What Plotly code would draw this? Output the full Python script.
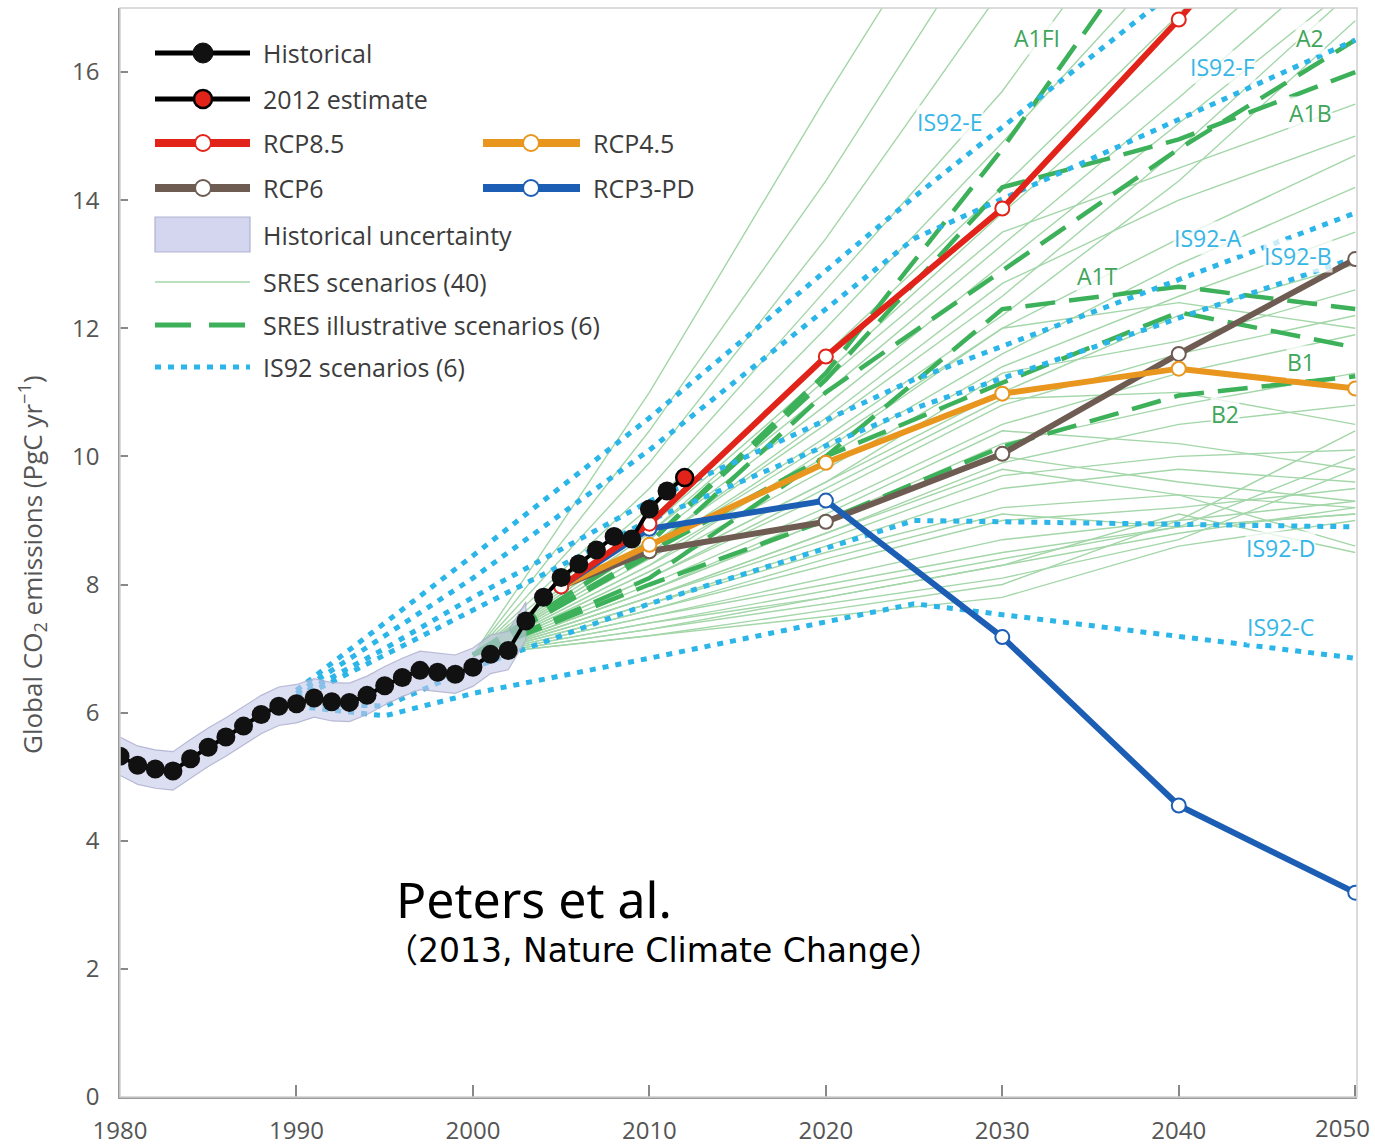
import plotly.graph_objects as go

# ---------------------------------------------------------------- data
hist_years = list(range(1980, 2012))
hist_emis = [5.32, 5.18, 5.12, 5.09, 5.28, 5.46, 5.62, 5.79, 5.97, 6.10,
             6.14, 6.23, 6.17, 6.16, 6.27, 6.42, 6.55, 6.66, 6.63, 6.60,
             6.71, 6.91, 6.97, 7.43, 7.80, 8.11, 8.32, 8.54, 8.75, 8.71,
             9.18, 9.46]
# half-width of the historical uncertainty band, 1980-2003
unc_years = list(range(1980, 2004))
hist_unc = [0.30, 0.30, 0.30, 0.30, 0.30, 0.30, 0.30, 0.30, 0.30, 0.30,
            0.30, 0.30, 0.30, 0.30, 0.30, 0.30, 0.30, 0.30, 0.30, 0.30,
            0.30, 0.30, 0.30, 0.30]
est_year = [2012]
est_emis = [9.67]

rcp_years = [2005, 2010, 2020, 2030, 2040, 2050]
rcp85 = [7.97, 8.95, 11.56, 13.87, 16.82, 20.0]
rcp45 = [7.97, 8.62, 9.90, 10.98, 11.37, 11.06]
rcp6 = [7.97, 8.52, 8.98, 10.04, 11.60, 13.08]
rcp3pd = [7.97, 8.87, 9.31, 7.18, 4.55, 3.19]

sres_years = [2000, 2010, 2020, 2030, 2040, 2050]
sres_runs = [
    [6.9, 11.0, 15.6, 20.0, 24.0, 28.0],
    [6.9, 10.4, 14.3, 18.6, 22.0, 26.0],
    [6.9, 9.9, 13.4, 17.3, 21.0, 25.0],
    [6.9, 9.5, 12.6, 15.7, 19.5, 23.0],
    [6.9, 9.2, 12.0, 14.9, 17.9, 21.0],
    [6.9, 9.0, 11.6, 14.2, 16.9, 20.0],
    [6.9, 8.9, 11.3, 13.8, 16.2, 18.6],
    [6.9, 8.8, 11.0, 13.3, 15.6, 18.0],
    [6.9, 8.7, 10.8, 13.0, 15.2, 17.4],
    [6.9, 8.6, 10.5, 12.5, 14.8, 17.3],
    [6.9, 8.5, 10.3, 12.2, 14.3, 16.8],
    [6.9, 8.8, 11.2, 13.5, 14.5, 15.5],
    [6.9, 8.6, 10.6, 12.7, 14.0, 15.0],
    [6.9, 8.5, 10.2, 12.0, 13.4, 14.7],
    [6.9, 8.4, 10.0, 11.6, 13.0, 14.2],
    [6.9, 8.3, 9.8, 11.4, 12.5, 13.5],
    [6.9, 8.2, 9.6, 11.0, 12.2, 13.0],
    [6.9, 8.3, 10.1, 12.0, 12.4, 12.0],
    [6.9, 8.2, 9.6, 11.3, 11.8, 12.6],
    [6.9, 8.1, 9.4, 10.8, 11.6, 12.2],
    [6.9, 8.0, 9.2, 10.5, 11.3, 11.9],
    [6.9, 8.1, 9.5, 10.9, 11.0, 10.5],
    [6.9, 7.9, 9.0, 10.2, 10.8, 11.3],
    [6.9, 7.9, 9.1, 10.4, 10.2, 9.8],
    [6.9, 7.8, 8.8, 9.9, 10.5, 10.8],
    [6.9, 7.8, 8.7, 9.7, 10.0, 10.1],
    [6.9, 7.9, 9.0, 10.0, 9.6, 9.3],
    [6.9, 7.7, 8.6, 9.5, 9.8, 9.6],
    [6.9, 7.8, 8.8, 9.8, 9.4, 8.6],
    [6.9, 7.7, 8.5, 9.2, 9.4, 9.2],
    [6.9, 7.6, 8.3, 9.0, 9.2, 9.5],
    [6.9, 7.6, 8.4, 9.1, 8.9, 9.1],
    [6.9, 7.5, 8.1, 8.7, 9.0, 9.3],
    [6.9, 7.5, 8.0, 8.5, 8.9, 9.1],
    [6.9, 7.4, 7.9, 8.4, 8.9, 10.0],
    [6.9, 7.4, 7.8, 8.3, 9.1, 8.5],
    [6.9, 7.3, 7.8, 8.3, 8.8, 9.2],
    [6.9, 7.3, 7.7, 8.1, 8.7, 9.8],
    [6.9, 7.2, 7.6, 8.0, 9.0, 10.4],
    [6.9, 7.2, 7.5, 7.8, 8.6, 9.0],
]

# SRES illustrative (marker) scenarios
sres_a1fi = [6.9, 8.65, 11.3, 14.8, 18.7, 23.1]
sres_a2 = [6.9, 8.45, 11.0, 12.9, 14.8, 16.5]
sres_a1b = [6.9, 8.65, 11.2, 14.2, 14.95, 16.0]
sres_a1t = [6.9, 8.1, 10.0, 12.3, 12.65, 12.3]
sres_b1 = [6.9, 8.5, 10.0, 11.15, 12.25, 11.7]
sres_b2 = [6.9, 8.0, 9.0, 10.15, 10.95, 11.25]

# IS92 scenarios
is92_years = [1990, 1995, 2000, 2010, 2025, 2050]
is92_e = [6.35, 7.40, 8.45, 10.6, 14.05, 19.5]
is92_f = [6.30, 7.20, 8.10, 10.1, 13.40, 16.5]
is92_a = [6.25, 7.00, 7.80, 9.3, 11.20, 13.8]
is92_b = [6.20, 6.90, 7.60, 9.0, 10.75, 13.1]
is92_d = [6.15, 6.10, 6.70, 7.7, 9.00, 8.9]
is92_c = [6.10, 5.95, 6.30, 6.85, 7.70, 6.85]

x_ticks = [1980, 1990, 2000, 2010, 2020, 2030, 2040, 2050]
y_ticks = [0, 2, 4, 6, 8, 10, 12, 14, 16]

# ------------------------------------------------------------- styles
RED = "#e2231a"
ORANGE = "#e8961e"
BROWN = "#6e5b52"
BLUE = "#1d5eb5"
GREEN_D = "#3db15a"
GREEN_T = "#a3d6a8"
CYAN = "#2bb5e8"
LBL_GREEN = "#3fa55b"
LBL_CYAN = "#36b6e6"
TXT = "#3c3c3c"
AX_TXT = "#555555"
FONT = "Open Sans"

DASH_SRES = "30px,14px"
DOT_IS92 = "6px,7px"

fig = go.Figure()

# thin SRES scenario lines, one trace with gaps between runs
xs, ys = [], []
for run in sres_runs:
    xs += sres_years + [None]
    ys += run + [None]
fig.add_trace(go.Scatter(x=xs, y=ys, mode="lines", hoverinfo="skip",
                         line=dict(color=GREEN_T, width=1.4),
                         connectgaps=False, showlegend=False))

for vals in [sres_b2, sres_b1, sres_a1t, sres_a1b, sres_a2, sres_a1fi]:
    fig.add_trace(go.Scatter(x=sres_years, y=vals, mode="lines",
                             line=dict(color=GREEN_D, width=4.5, dash=DASH_SRES),
                             showlegend=False))

for vals in [is92_c, is92_d, is92_b, is92_a, is92_f, is92_e]:
    fig.add_trace(go.Scatter(x=is92_years, y=vals, mode="lines",
                             line=dict(color=CYAN, width=5, dash=DOT_IS92),
                             showlegend=False))

# historical uncertainty band
n_unc = len(unc_years)
band_hi = [v + u for v, u in zip(hist_emis[:n_unc], hist_unc)]
band_lo = [v - u for v, u in zip(hist_emis[:n_unc], hist_unc)]
fig.add_trace(go.Scatter(x=unc_years + unc_years[::-1],
                         y=band_hi + band_lo[::-1],
                         fill="toself", mode="lines",
                         fillcolor="rgba(196,200,232,0.6)",
                         line=dict(color="rgba(170,172,205,0.8)", width=1.2),
                         showlegend=False))

# RCP pathways
for vals, col in [(rcp6, BROWN), (rcp45, ORANGE), (rcp3pd, BLUE), (rcp85, RED)]:
    fig.add_trace(go.Scatter(x=rcp_years, y=vals, mode="lines+markers",
                             line=dict(color=col, width=6),
                             marker=dict(size=14, color="white",
                                         line=dict(color=col, width=2)),
                             showlegend=False))

# historical emissions and 2012 estimate
fig.add_trace(go.Scatter(x=hist_years + est_year, y=hist_emis + est_emis,
                         mode="lines", line=dict(color="black", width=4),
                         showlegend=False))
fig.add_trace(go.Scatter(x=hist_years, y=hist_emis, mode="markers",
                         marker=dict(size=19, color="#111111",
                                     line=dict(color="#111111", width=0)),
                         showlegend=False))
fig.add_trace(go.Scatter(x=est_year, y=est_emis, mode="markers",
                         marker=dict(size=17, color=RED,
                                     line=dict(color="black", width=2.5)),
                         showlegend=False))

# ------------------------------------------------------ scenario labels
labels = [
    ("A1FI", 2031.98, 16.53, LBL_GREEN),
    ("A2", 2047.46, 16.53, LBL_GREEN),
    ("A1B", 2047.46, 15.36, LBL_GREEN),
    ("A1T", 2035.39, 12.82, LBL_GREEN),
    ("B1", 2046.90, 11.47, LBL_GREEN),
    ("B2", 2042.64, 10.66, LBL_GREEN),
    ("IS92-E", 2027.05, 15.22, LBL_CYAN),
    ("IS92-F", 2042.47, 16.08, LBL_CYAN),
    ("IS92-A", 2041.68, 13.41, LBL_CYAN),
    ("IS92-B", 2046.78, 13.13, LBL_CYAN),
    ("IS92-D", 2045.76, 8.57, LBL_CYAN),
    ("IS92-C", 2045.76, 7.34, LBL_CYAN),
]
annotations = []
for txt, x, y, col in labels:
    annotations.append(dict(x=x, y=y, xref="x", yref="y", text=txt,
                            showarrow=False, xanchor="center", yanchor="middle",
                            bgcolor="rgba(255,255,255,0.75)", borderpad=0,
                            font=dict(family=FONT, size=23, color=col)))

# ------------------------------------------------------------- legend
W, H = 1375, 1145
L, R, T, B = 120, 1357, 8, 1097


def px(x):
    return (x - L) / (R - L)


def py(y):
    return (B - y) / (B - T)


shapes = []


def key_line(x0, x1, y, col, width, dash="solid"):
    shapes.append(dict(type="line", xref="paper", yref="paper",
                       x0=px(x0), x1=px(x1), y0=py(y), y1=py(y),
                       line=dict(color=col, width=width, dash=dash)))


def key_dot(x, y, r, fill, edge, ew):
    shapes.append(dict(type="circle", xref="paper", yref="paper",
                       xsizemode="pixel", ysizemode="pixel",
                       xanchor=px(x), yanchor=py(y),
                       x0=-r, x1=r, y0=-r, y1=r,
                       fillcolor=fill, line=dict(color=edge, width=ew)))


def key_text(x, y, txt):
    annotations.append(dict(x=px(x), y=py(y), xref="paper", yref="paper",
                            text=txt, showarrow=False, xanchor="left",
                            yanchor="middle",
                            font=dict(family=FONT, size=25, color=TXT)))


c1a, c1b, c1m, c1t = 155, 250, 203, 261
c2a, c2b, c2m, c2t = 483, 580, 531, 591

key_line(c1a, c1b, 53, "black", 5)
key_dot(c1m, 53, 10, "#111111", "#111111", 1)
key_text(c1t, 53, "Historical")

key_line(c1a, c1b, 99, "black", 5)
key_dot(c1m, 99, 9, RED, "black", 2.5)
key_text(c1t, 99, "2012 estimate")

key_line(c1a, c1b, 143, RED, 8)
key_dot(c1m, 143, 8, "white", RED, 2)
key_text(c1t, 143, "RCP8.5")

key_line(c2a, c2b, 143, ORANGE, 8)
key_dot(c2m, 143, 8, "white", ORANGE, 2)
key_text(c2t, 143, "RCP4.5")

key_line(c1a, c1b, 188, BROWN, 8)
key_dot(c1m, 188, 8, "white", BROWN, 2)
key_text(c1t, 188, "RCP6")

key_line(c2a, c2b, 188, BLUE, 8)
key_dot(c2m, 188, 8, "white", BLUE, 2)
key_text(c2t, 188, "RCP3-PD")

shapes.append(dict(type="rect", xref="paper", yref="paper",
                   x0=px(c1a), x1=px(c1b), y0=py(252), y1=py(217),
                   fillcolor="rgba(196,200,232,0.75)",
                   line=dict(color="rgba(170,172,205,0.9)", width=1.2)))
key_text(c1t, 235, "Historical uncertainty")

key_line(c1a, c1b, 282, GREEN_T, 1.5)
key_text(c1t, 282, "SRES scenarios (40)")

key_line(c1a, c1b - 3, 325, GREEN_D, 5, "36px,18px")
key_text(c1t, 325, "SRES illustrative scenarios (6)")

key_line(c1a, c1b, 367, CYAN, 5, DOT_IS92)
key_text(c1t, 367, "IS92 scenarios (6)")

# plot frame
shapes.append(dict(type="rect", xref="paper", yref="paper", x0=0, x1=1,
                   y0=0, y1=1, line=dict(color="#cfcfcf", width=1.5),
                   layer="above"))

# the last year label sits against the right edge, so it is right-aligned
tick_text = [str(v) for v in x_ticks]
tick_text[-1] = ""
annotations.append(dict(x=x_ticks[-1], y=0, xref="x", yref="paper",
                        text=str(x_ticks[-1]), showarrow=False, borderpad=0,
                        xanchor="right", yanchor="top", xshift=16, yshift=-13,
                        font=dict(family=FONT, size=24, color=AX_TXT)))

# axis title and source note
annotations.append(dict(x=px(32), y=py(565), xref="paper", yref="paper",
                        text="Global CO<sub>2</sub> emissions (PgC yr<sup>−1</sup>)",
                        textangle=-90, showarrow=False,
                        xanchor="center", yanchor="middle",
                        font=dict(family=FONT, size=26, color=AX_TXT)))
annotations.append(dict(x=px(394), y=py(899), xref="paper", yref="paper",
                        text="Peters et al.", showarrow=False,
                        xanchor="left", yanchor="middle",
                        font=dict(family="Noto Sans", size=50, color="black")))
annotations.append(dict(x=px(383), y=py(950), xref="paper", yref="paper",
                        text="（2013, Nature Climate Change）", showarrow=False,
                        xanchor="left", yanchor="middle",
                        font=dict(family="DejaVu Sans, Noto Sans CJK JP",
                                  size=33, color="black")))

fig.update_layout(
    width=W, height=H,
    margin=dict(l=L, r=W - R, t=T, b=H - B, autoexpand=False),
    paper_bgcolor="white", plot_bgcolor="white",
    showlegend=False,
    shapes=shapes,
    annotations=annotations,
    xaxis=dict(range=[1980, 2050.1], tickvals=x_ticks, ticktext=tick_text,
               ticks="inside", ticklen=12, tickwidth=1.5, tickcolor="#888888",
               showline=True, linecolor="#999999", linewidth=1.5,
               showgrid=False, zeroline=False, ticklabelstandoff=11,
               automargin=False,
               tickfont=dict(family=FONT, size=24, color=AX_TXT)),
    yaxis=dict(range=[0, 17], tickvals=y_ticks,
               ticks="inside", ticklen=8, tickwidth=1.5, tickcolor="#888888",
               showline=True, linecolor="#999999", linewidth=1.5,
               showgrid=False, zeroline=False, ticklabelstandoff=14,
               automargin=False,
               tickfont=dict(family=FONT, size=24, color=AX_TXT)),
)

fig.write_html("out.html")
